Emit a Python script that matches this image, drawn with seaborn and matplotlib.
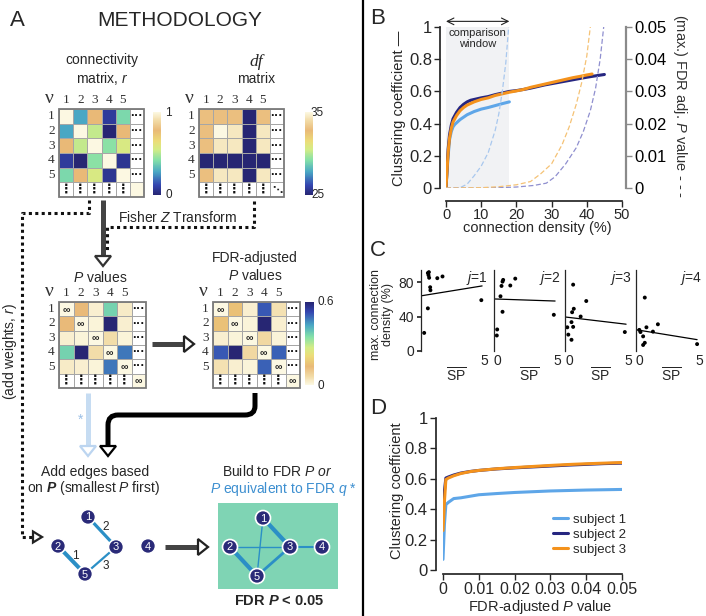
import matplotlib
matplotlib.use("Agg")
import matplotlib.pyplot as plt
import seaborn as sns
import numpy as np
import pandas as pd
from matplotlib.colors import LinearSegmentedColormap
from matplotlib.patches import Polygon, Rectangle, Circle, PathPatch
from matplotlib.path import Path

sns.set_theme(style="ticks")
plt.rcParams["font.family"] = ["Liberation Sans", "DejaVu Sans"]
plt.rcParams["mathtext.fontset"] = "custom"
plt.rcParams["mathtext.rm"] = "Liberation Sans"
plt.rcParams["mathtext.it"] = "Liberation Sans:italic"
plt.rcParams["mathtext.bf"] = "Liberation Sans:italic:bold"

# ---------------- data ----------------
# panel A: example 5-node matrices
conn_r = [[1.00, 0.28, 0.78, 0.08, 0.40],
          [0.28, 1.00, 0.52, 0.00, 0.78],
          [0.78, 0.52, 1.00, 0.43, 0.57],
          [0.08, 0.00, 0.43, 1.00, 0.06],
          [0.40, 0.78, 0.57, 0.06, 1.00]]
df_mat = [[33.0, 33.0, 33.0, 25.0, 33.0],
          [33.0, 35.0, 34.4, 25.0, 34.4],
          [33.0, 34.4, 34.4, 25.0, 34.4],
          [25.0, 25.0, 25.0, 25.0, 25.0],
          [33.0, 34.4, 34.4, 25.0, 34.4]]
p_vals = [[0.00, 0.13, 0.02, 0.37, 0.03],
          [0.13, 0.00, 0.01, 0.60, 0.02],
          [0.02, 0.01, 0.00, 0.06, 0.01],
          [0.37, 0.60, 0.06, 0.00, 0.48],
          [0.03, 0.02, 0.01, 0.48, 0.00]]
fdr_p = [[0.00, 0.15, 0.02, 0.51, 0.05],
         [0.15, 0.00, 0.01, 0.60, 0.02],
         [0.02, 0.01, 0.00, 0.07, 0.01],
         [0.51, 0.60, 0.07, 0.00, 0.50],
         [0.05, 0.02, 0.01, 0.50, 0.00]]
node_ids = [1, 2, 3, 4, 5]
edges_step = [(2, 5), (1, 3), (5, 3)]          # order added (smallest P first)
edges_final = [(1, 3), (2, 5), (5, 3), (1, 5), (2, 3), (3, 4)]
edge_weight_final = [3, 3, 2, 1, 1, 1.5]

# panel B: clustering coefficient vs connection density
subjects = ["subject 1", "subject 2", "subject 3"]
dens_s1 = [0, 0.5, 1, 1.5, 2, 2.5, 3, 4, 5, 6, 7, 8, 10, 12, 14, 16, 18]
cc_s1 = [0, 0.17, 0.30, 0.35, 0.38, 0.395, 0.405, 0.425, 0.44, 0.455, 0.465,
         0.475, 0.49, 0.50, 0.512, 0.524, 0.535]
dens_s2 = [0, 0.3, 0.6, 1, 1.5, 2, 3, 4, 5, 6, 7, 8, 10, 12, 14, 16, 18, 20,
           22, 24, 26, 28, 30, 32, 34, 36, 38, 40, 42, 45]
cc_s2 = [0, 0.12, 0.24, 0.33, 0.39, 0.43, 0.47, 0.50, 0.52, 0.535, 0.545, 0.55,
         0.56, 0.568, 0.58, 0.59, 0.60, 0.605, 0.612, 0.62, 0.63, 0.64, 0.648,
         0.656, 0.664, 0.672, 0.68, 0.688, 0.695, 0.705]
dens_s3 = [0, 0.3, 0.6, 1, 1.5, 2, 3, 4, 5, 6, 7, 8, 10, 12, 14, 16, 18, 20,
           22, 24, 26, 28, 30, 32, 34, 36, 38, 40, 41.5]
cc_s3 = [0, 0.11, 0.22, 0.31, 0.37, 0.41, 0.45, 0.48, 0.50, 0.515, 0.525, 0.535,
         0.55, 0.56, 0.575, 0.585, 0.595, 0.603, 0.612, 0.625, 0.635, 0.645,
         0.655, 0.665, 0.675, 0.685, 0.693, 0.702, 0.708]
# max FDR adjusted P at each density (dashed)
pd_s1 = [0, 2, 4, 6, 8, 10, 12, 13, 14, 15, 16, 17, 17.8]
pv_s1 = [0, 0, 0.0001, 0.0012, 0.0038, 0.0068, 0.011, 0.0145, 0.018, 0.023,
         0.030, 0.039, 0.050]
pd_s2 = [0, 15, 20, 25, 28.5, 31, 34, 37, 39, 41, 42.5, 43.8, 44.8]
pv_s2 = [0, 0.0001, 0.0003, 0.0008, 0.0015, 0.0035, 0.0075, 0.0125, 0.0175,
         0.024, 0.031, 0.040, 0.050]
pd_s3 = [0, 10, 15, 20, 24, 27, 30, 33, 35, 37, 38.5, 40, 41]
pv_s3 = [0, 0.0001, 0.0004, 0.001, 0.002, 0.0045, 0.0075, 0.0135, 0.019,
         0.026, 0.0325, 0.041, 0.050]
window_max = 18

# panel C: max connection density vs SP, j = 1..4
c_sp = [[0.54, 0.59, 0.64, 0.62, 1.28, 1.69, 0.72, 0.74, 0.54, 0.25, 4.74],
        [0.51, 0.59, 0.67, 0.72, 1.28, 1.67, 0.67, 0.25, 0.22, 4.70],
        [0.64, 1.67, 0.69, 0.56, 1.23, 0.51, 0.64, 0.18, 0.26, 0.51, 4.70],
        [0.69, 1.72, 0.82, 1.33, 0.26, 0.35, 0.56, 0.69, 0.56, 4.80]]
c_dens = [[90.5, 88, 85, 91.5, 84.5, 86.5, 74, 70.5, 49.5, 21, 59],
          [63.5, 75.5, 80.5, 82.5, 76, 84, 45.5, 25, 18, 42],
          [77, 58, 49, 45, 40, 33.5, 28, 27.5, 19, 13, 22],
          [62, 31, 27.5, 22.5, 24.5, 22, 17, 9.5, 7, 8]]
fit_intercept = [64, 60.4, 39.5, 24.7]
fit_slope = [2.4, -0.5, -1.75, -2.4]
fit_range = [0, 4.8]

# panel D: clustering coefficient vs FDR-adjusted P
d_p = [0, 0.0004, 0.0008, 0.0015, 0.003, 0.005, 0.0075, 0.01, 0.015, 0.02,
       0.025, 0.03, 0.035, 0.04, 0.045, 0.05]
d_s1 = [0.07, 0.30, 0.43, 0.445, 0.47, 0.475, 0.485, 0.495, 0.503, 0.51,
        0.515, 0.52, 0.523, 0.526, 0.528, 0.53]
d_s2 = [0.37, 0.52, 0.605, 0.612, 0.625, 0.638, 0.648, 0.655, 0.665, 0.672,
        0.678, 0.684, 0.69, 0.695, 0.70, 0.703]
d_s3 = [0.26, 0.45, 0.595, 0.605, 0.62, 0.635, 0.647, 0.655, 0.666, 0.674,
        0.681, 0.688, 0.694, 0.699, 0.703, 0.707]

# ---------------- styling ----------------
col_s1, col_s2, col_s3 = "#5ea6e8", "#262680", "#f4921c"
dash_s1, dash_s2, dash_s3 = "#a9c8ee", "#8f8fcf", "#f5c275"
edge_col = "#2b8fc6"
node_col = "#2a2a78"
cmap_r = LinearSegmentedColormap.from_list("haxby", [
    (0.0, "#272673"), (0.12, "#3446b0"), (0.28, "#4aa8c4"), (0.42, "#84e0a8"),
    (0.55, "#d4ec86"), (0.65, "#ecdc78"), (0.78, "#e9b977"), (0.9, "#f2dca8"),
    (1.0, "#fcf8e2")])
cmap_p = cmap_r.reversed()

W, H = 706, 616
fig = plt.figure(figsize=(W / 100, H / 100), dpi=100)


def px_axes(x, y, w, h):
    return fig.add_axes([x / W, 1 - (y + h) / H, w / W, h / H])


ov = px_axes(0, 0, W, H)
ov.set_xlim(0, W)
ov.set_ylim(H, 0)
ov.axis("off")


def draw_matrix(ax, vals, cmap, vmin, vmax, cax=None, corner=np.nan,
                corner_txt="", diag_txt=""):
    n = len(vals)
    grid = np.full((n + 1, n + 1), np.nan)
    grid[:n, :n] = np.array(vals, dtype=float)
    grid[n, n] = corner
    sns.heatmap(grid, ax=ax, cmap=cmap, vmin=vmin, vmax=vmax,
                cbar=cax is not None, cbar_ax=cax, linewidths=0.5,
                linecolor="#a6a6a6", xticklabels=False, yticklabels=False)
    for i in range(n):
        ax.text(n + 0.5, i + 0.5, "···", ha="center", va="center",
                fontsize=9, fontweight="bold", color="#111")
        ax.text(i + 0.5, n + 0.5, "⋮", ha="center", va="center",
                fontsize=9, fontweight="bold", color="#111")
        ax.text(i + 0.5, -0.2, str(node_ids[i]), ha="center", va="bottom",
                fontsize=9.5, family="Liberation Serif", color="#333")
        ax.text(-0.3, i + 0.5, str(node_ids[i]), ha="right", va="center",
                fontsize=9.5, family="Liberation Serif", color="#333")
        if diag_txt:
            ax.text(i + 0.5, i + 0.55, diag_txt, ha="center", va="center",
                    fontsize=7.5, fontweight="bold", color="#222")
    if corner_txt:
        ax.text(n + 0.5, n + 0.55, corner_txt, ha="center", va="center",
                fontsize=7.5, fontweight="bold", color="#222")
    ax.text(-0.35, -0.15, "ν", ha="right", va="bottom", fontsize=14,
            family="Liberation Serif", color="#333")
    ax.add_patch(Rectangle((0, 0), n + 1, n + 1, fill=False, ec="#7a7a7a",
                           lw=1.3, clip_on=False))
    if cax is not None:
        cax.set_yticks([])


def open_head(tip, direction, color, half=8, depth=10):
    x, y = tip
    if direction == "down":
        pts = [(x, y), (x - half, y - depth), (x + half, y - depth)]
    else:
        pts = [(x, y), (x - depth, y - half), (x - depth, y + half)]
    ov.add_patch(Polygon(pts, closed=True, fc="white", ec=color, lw=1.6,
                         zorder=4))


# ---------------- panel A ----------------
ov.text(17, 21, "A", fontsize=16, ha="center", va="center")
ov.text(180, 21, "METHODOLOGY", fontsize=15, ha="center", va="center")

ov.text(102, 70, "connectivity\nmatrix, $r$", fontsize=10, ha="center",
        va="center", linespacing=1.25)
ov.text(256, 62, "df", fontsize=12.5, ha="center", va="center",
        family="Liberation Serif", style="italic")
ov.text(256, 79, "matrix", fontsize=10, ha="center", va="center")
ov.text(100, 277, "$P$ values", fontsize=10, ha="center", va="center")
ov.text(255, 267, "FDR-adjusted\n$P$ values", fontsize=10, ha="center",
        va="center", linespacing=1.3)

ax_conn = px_axes(59, 109, 85, 88)
cax_conn = px_axes(153, 112, 8, 83)
draw_matrix(ax_conn, conn_r, cmap_r, 0, 1, cax=cax_conn, corner=1.0)
ov.text(165, 113, "1", fontsize=8.5, va="center")
ov.text(165, 195, "0", fontsize=8.5, va="center")

ax_df = px_axes(199, 109, 85, 88)
cax_df = px_axes(305, 112, 8, 83)
draw_matrix(ax_df, df_mat, cmap_r, 25, 35, cax=cax_df, corner_txt="⋱")
ov.text(311, 113, "35", fontsize=8.5, va="center")
ov.text(311, 195, "25", fontsize=8.5, va="center")

ax_p = px_axes(59, 302, 87, 86)
draw_matrix(ax_p, p_vals, cmap_p, 0, 0.6, corner=0.0, corner_txt="∞",
            diag_txt="∞")

ax_fdr = px_axes(213, 302, 87, 86)
cax_fdr = px_axes(305, 302, 9, 83)
draw_matrix(ax_fdr, fdr_p, cmap_p, 0, 0.6, cax=cax_fdr, corner=0.0,
            corner_txt="∞", diag_txt="∞")
ov.text(317, 302, "0.6", fontsize=8.5, va="center")
ov.text(317, 386, "0", fontsize=8.5, va="center")

# arrows and connectors
dot = (0, (1, 1.1))
ov.plot([103, 103], [200, 256], color="#444", lw=3.6, solid_capstyle="butt")
ov.plot([254, 254, 107, 107], [201, 227, 227, 252], color="#111", lw=2.2,
        ls=dot)
open_head((103, 266), "down", "#333")
ov.text(178, 217, "Fisher $Z$ Transform", fontsize=10, ha="center",
        va="center")
ov.plot([89, 89, 22, 22, 33], [200, 213, 213, 537, 537], color="#111",
        lw=2.2, ls=dot)
open_head((42, 537), "right", "#222", half=5.5, depth=9)
ov.text(10, 352, "(add weights, $r$)", fontsize=10, rotation=90,
        ha="center", va="center")

ov.plot([152, 184], [344, 344], color="#444", lw=3.6, solid_capstyle="butt")
open_head((194, 344), "right", "#222")

ov.plot([88, 88], [393, 446], color="#c6dcf2", lw=3.6, solid_capstyle="butt")
open_head((88, 456), "down", "#bcd5f0")
ov.text(81, 420, "*", fontsize=10, color="#9bbfe6", ha="center",
        va="center")

verts = [(255, 393), (255, 406), (255, 415), (245, 415), (118, 415),
         (108, 415), (108, 425), (108, 446)]
codes = [Path.MOVETO, Path.LINETO, Path.CURVE3, Path.CURVE3, Path.LINETO,
         Path.CURVE3, Path.CURVE3, Path.LINETO]
ov.add_patch(PathPatch(Path(verts, codes), fill=False, ec="black", lw=3.6,
                       capstyle="butt"))
open_head((108, 456), "down", "black")

ov.text(95, 472, "Add edges based", fontsize=10, ha="center", va="center")
ov.text(94, 488, r"on $\mathbf{P}$ (smallest $P$ first)", fontsize=10,
        ha="center", va="center")
ov.text(277, 471, "Build to FDR $P$ $or$", fontsize=10, ha="center",
        va="center")
ov.text(283, 489, "$P$ equivalent to FDR $q$ *", fontsize=10, ha="center",
        va="center", color="#3d8fd0")

# networks
pos_step = {1: (88, 517), 2: (58, 546), 3: (116, 547), 4: (148, 546),
            5: (85, 574)}
step_lw = [2.9, 2.3, 1.6]
step_lab = [(75, 556), (106, 527), (106, 566)]
for k, (a, b) in enumerate(edges_step):
    ov.plot([pos_step[a][0], pos_step[b][0]], [pos_step[a][1], pos_step[b][1]],
            color=edge_col, lw=step_lw[k], solid_capstyle="butt", zorder=2)
    ov.text(step_lab[k][0], step_lab[k][1], str(k + 1), fontsize=8.5,
            ha="center", va="center")

ov.plot([165, 198], [547, 547], color="#444", lw=3.6, solid_capstyle="butt")
open_head((208, 547), "right", "#222")

ov.add_patch(Rectangle((218, 503), 120, 86, fc="#7fd4b4", ec="none",
                       zorder=1))
pos_final = {1: (263, 518), 2: (230, 547), 3: (290, 547), 4: (322, 547),
             5: (257, 576)}
for (a, b), w in zip(edges_final, edge_weight_final):
    ov.plot([pos_final[a][0], pos_final[b][0]],
            [pos_final[a][1], pos_final[b][1]], color=edge_col, lw=w,
            solid_capstyle="butt", zorder=2)
for pos in (pos_step, pos_final):
    for nid, (x, y) in pos.items():
        ov.add_patch(Circle((x, y), 7.5, fc=node_col, ec="white", lw=1.2,
                            zorder=5))
        ov.text(x, y + 0.5, str(nid), color="white", fontsize=8, ha="center",
                va="center", zorder=6)
ov.text(279, 601, "FDR $\\mathbf{P}$ < 0.05", fontsize=10.5,
        fontweight="bold", ha="center", va="center")

ov.plot([363, 363], [0, H], color="black", lw=1.6)

# ---------------- panel B ----------------
ov.text(378, 19, "B", fontsize=16, ha="center", va="center")
axB = px_axes(446, 27, 176, 161)
axB.axvspan(0, window_max, color="#f1f2f4", lw=0, zorder=0)
for dx, dy, c in [(dens_s1, cc_s1, col_s1), (dens_s2, cc_s2, col_s2),
                  (dens_s3, cc_s3, col_s3)]:
    sns.lineplot(x=np.array(dx), y=np.array(dy), ax=axB, color=c, lw=2.2,
                 legend=False)
axB.set_xlim(0, 50)
axB.set_ylim(0, 1)
axB.set_xlabel("")
axB.set_ylabel("")
axB.set_xticks([0, 10, 20, 30, 40, 50])
axB.set_yticks([0, 0.2, 0.4, 0.6, 0.8, 1],
               labels=["0", "0.2", "0.4", "0.6", "0.8", "1"])
axB.tick_params(axis="y", labelsize=12, length=4, width=1, pad=2)
axB.tick_params(axis="x", labelsize=10.5, length=4, width=1, pad=1.5)
for s in ["top", "right"]:
    axB.spines[s].set_visible(False)
axB.spines["left"].set_position(("outward", 4))
axB.spines["bottom"].set_position(("outward", 9))
axB.annotate("", xy=(0, 1.035), xytext=(window_max, 1.035),
             arrowprops=dict(arrowstyle="<->", lw=0.8, color="#222",
                             shrinkA=0, shrinkB=0), annotation_clip=False)
axB.text(window_max / 2, 0.93, "comparison\nwindow", fontsize=8,
         ha="center", va="center", linespacing=1.1)

axB2 = axB.twinx()
for dx, dy, c in [(pd_s1, pv_s1, dash_s1), (pd_s2, pv_s2, dash_s2),
                  (pd_s3, pv_s3, dash_s3)]:
    sns.lineplot(x=np.array(dx), y=np.array(dy), ax=axB2, color=c, lw=0.9,
                 ls=(0, (4, 2)), legend=False)
axB2.set_ylim(0, 0.05)
axB2.set_xlim(0, 50)
axB2.set_ylabel("")
axB2.set_yticks([0, 0.01, 0.02, 0.03, 0.04, 0.05],
                labels=["0", "0.01", "0.02", "0.03", "0.04", "0.05"])
axB2.tick_params(axis="y", labelsize=12, length=4, width=1, pad=2,
                 colors="#8a8a8a", labelcolor="black")
for s in ["top", "left", "bottom"]:
    axB2.spines[s].set_visible(False)
axB2.spines["right"].set_position(("outward", 3))
axB2.spines["right"].set_color("#8a8a8a")
axB2.spines["right"].set_linewidth(1.6)

ov.text(399, 108, "Clustering coefficient —", fontsize=10.5, rotation=90,
        ha="center", va="center")
ov.text(680, 106, "(max.) FDR adj. $P$ value - - -", fontsize=10.5,
        rotation=270, ha="center", va="center", color="#333")
ov.text(537, 228, "connection density (%)", fontsize=10.5, ha="center",
        va="center")

# ---------------- panel C ----------------
ov.text(378, 250, "C", fontsize=16, ha="center", va="center")
c_left = [421, 494, 565, 636]
for j in range(4):
    ax = px_axes(c_left[j], 270, 70, 81)
    sns.scatterplot(x=c_sp[j], y=c_dens[j], ax=ax, color="black", s=8,
                    edgecolor="none", legend=False)
    fx = np.array(fit_range)
    sns.lineplot(x=fx, y=fit_intercept[j] + fit_slope[j] * fx, ax=ax,
                 color="black", lw=0.9, legend=False)
    ax.set_xlim(0, 5.5)
    ax.set_ylim(0, 94)
    for s in ["top", "right", "bottom"]:
        ax.spines[s].set_visible(False)
    ax.spines["left"].set_linewidth(0.9)
    ax.set_xticks([0, 5], labels=["" if j == 0 else "0", "5"])
    ax.tick_params(axis="x", length=0, labelsize=10, pad=2)
    ax.get_xticklabels()[0].set_ha("left")
    if j == 0:
        ax.set_yticks([0, 40, 80])
        ax.tick_params(axis="y", length=3, labelsize=10, pad=2)
    else:
        ax.set_yticks([])
    ax.set_xlabel(r"$\overline{\mathrm{SP}}$", fontsize=10, labelpad=-1)
    ax.set_ylabel("")
    ax.text(0.95, 0.9, f"$j$={j + 1}", transform=ax.transAxes, ha="right",
            va="center", fontsize=10)
ov.text(382, 315, "max. connection\ndensity (%)", fontsize=9, rotation=90,
        ha="center", va="center", linespacing=1.1)

# ---------------- panel D ----------------
ov.text(378, 408, "D", fontsize=16, ha="center", va="center")
axD = px_axes(443, 418, 179, 152)
dD = pd.DataFrame({
    "p": d_p * 3,
    "cc": d_s1 + d_s2 + d_s3,
    "subject": [s for s in subjects for _ in d_p],
})
sns.lineplot(data=dD, x="p", y="cc", hue="subject", hue_order=subjects,
             palette=[col_s1, col_s2, col_s3], lw=2.2, ax=axD)
axD.set_xlim(0, 0.05)
axD.set_ylim(0, 1)
axD.set_xlabel("")
axD.set_ylabel("")
axD.set_xticks([0, 0.01, 0.02, 0.03, 0.04, 0.05],
               labels=["0", "0.01", "0.02", "0.03", "0.04", "0.05"])
axD.set_yticks([0, 0.2, 0.4, 0.6, 0.8, 1],
               labels=["0", "0.2", "0.4", "0.6", "0.8", "1"])
axD.tick_params(axis="y", labelsize=12, length=4, width=1, pad=2)
axD.tick_params(axis="x", labelsize=11.5, length=4, width=1, pad=1.5)
for s in ["top", "right"]:
    axD.spines[s].set_visible(False)
axD.spines["left"].set_position(("outward", 5))
axD.spines["bottom"].set_position(("outward", 3))
sns.move_legend(axD, "upper left", bbox_to_anchor=(0.615, 0.37),
                frameon=False, title=None, fontsize=9.5, handlelength=1.1,
                handletextpad=0.4, labelspacing=0.2, borderpad=0,
                borderaxespad=0)
ov.text(397, 491, "Clustering coefficient", fontsize=10.5, rotation=90,
        ha="center", va="center")
ov.text(540, 607, "FDR-adjusted $P$ value", fontsize=10.5, ha="center",
        va="center")

fig.savefig("out.png", dpi=100)
